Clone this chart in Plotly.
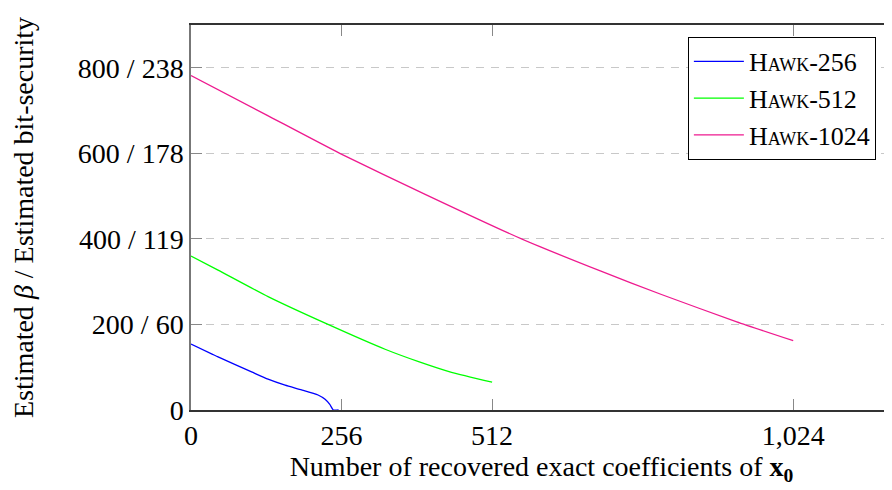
import plotly.graph_objects as go

# ---- data ----
hawk256_x = [0, 46, 103, 131, 160, 188, 216, 228, 236, 242, 251]
hawk256_y = [154, 124, 89, 72, 58, 47, 35, 25, 13, 0, 0]

hawk512_x = [0, 46, 131, 233, 330, 387, 443, 512]
hawk512_y = [360, 327, 265, 200, 142, 113, 88, 65]

hawk1024_x = [0, 128, 253, 400, 562, 696, 800, 928, 1024]
hawk1024_y = [782, 690, 600, 503, 400, 325, 270, 206, 162]

series_names = ["Hawk-256", "Hawk-512", "Hawk-1024"]
series_colors = ["#0000ff", "#00ff00", "#ee1a8f"]

x_tickvals = [0, 256, 512, 1024]
x_ticktext = ["0", "256", "512", "1,024"]
y_tickvals = [0, 200, 400, 600, 800]
y_ticktext = ["0", "200 / 60", "400 / 119", "600 / 178", "800 / 238"]

FONT = "Liberation Serif"
FS = 28

fig = go.Figure()
for xs, ys, name, col in zip([hawk256_x, hawk512_x, hawk1024_x],
                             [hawk256_y, hawk512_y, hawk1024_y],
                             series_names, series_colors):
    fig.add_trace(go.Scatter(x=xs, y=ys, mode="lines", name=name,
                             line=dict(color=col, width=1.3, shape="spline", smoothing=0.5)))

# page body has an 8px margin, so the figure is sized/offset accordingly
fig.update_layout(
    width=884, height=482,
    margin=dict(l=183, r=0, t=17, b=80, autoexpand=False),
    paper_bgcolor="white", plot_bgcolor="white",
    font=dict(family=FONT, size=FS, color="black"),
    showlegend=True,
    legend=dict(
        x=0.977, y=0.969, xanchor="right", yanchor="top",
        bgcolor="white", bordercolor="black", borderwidth=1,
        font=dict(family=FONT, size=26, color="black", variant="small-caps"),
        itemwidth=50, tracegroupgap=0,
    ),
)

fig.update_xaxes(
    range=[0, 1192], tickmode="array", tickvals=x_tickvals, ticktext=x_ticktext,
    showgrid=False, zeroline=False, automargin=False,
    showline=True, linecolor="#333333", linewidth=1.5, mirror="ticks",
    ticks="inside", ticklen=11, tickcolor="#888888", tickwidth=1,
    tickfont=dict(family=FONT, size=FS),
    title=dict(text="Number of recovered exact coefficients of <b>x</b><sub><b>0</b></sub>",
               font=dict(family=FONT, size=FS), standoff=6),
)
fig.update_yaxes(
    range=[0, 900], tickmode="array", tickvals=y_tickvals, ticktext=y_ticktext,
    showgrid=True, gridcolor="#c8c8c8", griddash="8px,7px", gridwidth=1,
    zeroline=False, automargin=False,
    showline=True, linecolor="#777777", linewidth=1.5,
    ticks="inside", ticklen=11, tickcolor="#888888", tickwidth=1,
    tickfont=dict(family=FONT, size=FS),
    title=dict(text="Estimated <i>β</i> / Estimated bit-security",
               font=dict(family=FONT, size=FS), standoff=38),
)

fig.write_html("out.html")
